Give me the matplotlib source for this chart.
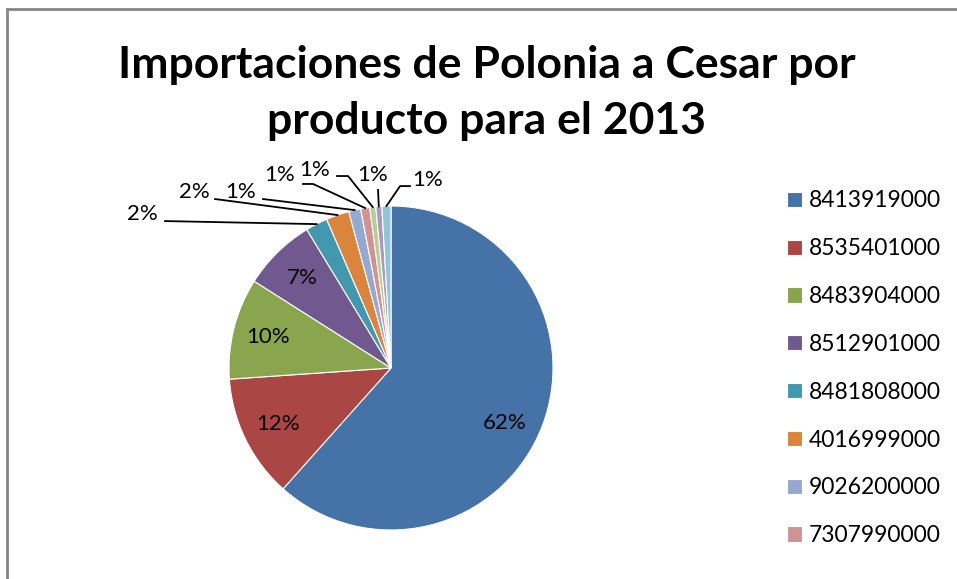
import numpy as np
import matplotlib.pyplot as plt
from matplotlib.patches import Rectangle

# product codes (only the first 8 are listed in the legend of the original)
codes = ["8413919000", "8535401000", "8483904000", "8512901000",
         "8481808000", "4016999000", "9026200000", "7307990000",
         "otro 1", "otro 2", "otro 3"]
shares = [61.6, 12.3, 10.1, 7.3, 2.2, 2.3, 1.2, 0.9, 0.6, 0.6, 0.9]
colors = ["#4572A7", "#AA4643", "#89A54E", "#71588F", "#4198AF", "#DB843D",
          "#93A9CF", "#D19392", "#B9CD96", "#A99BBD", "#92C5DA"]
n_legend = 8

# label layout for the small slices (data units, pie radius = 1)
# index -> (text position, leader line start points)
outside = {
    4: ((-1.537, 0.951), [(-1.395, 0.907)]),
    5: ((-1.216, 1.086), [(-1.086, 1.043)]),
    6: ((-0.926, 1.086), [(-0.790, 1.043)]),
    7: ((-0.685, 1.191), [(-0.543, 1.136), (-0.481, 1.136)]),
    8: ((-0.469, 1.222), [(-0.333, 1.185), (-0.265, 1.185)]),
    9: ((-0.111, 1.191), [(-0.080, 1.099)]),
    10: ((0.228, 1.160), [(0.117, 1.123), (0.056, 1.123)]),
}

plt.rcParams['font.family'] = ['Lato', 'DejaVu Sans']
fig = plt.figure(figsize=(9.57, 5.79), dpi=100)

# chart area border
fig.patches.append(Rectangle((7.5 / 957, -0.1), 1.2, 1 - 8.5 / 579 + 0.1,
                             transform=fig.transFigure, fill=False,
                             edgecolor="#868686", linewidth=2))

fig.text(487 / 957, 1 - 93 / 579, "Importaciones de Polonia a Cesar por\nproducto para el 2013",
         ha="center", va="center", fontsize=32, fontweight="bold", linespacing=1.48)

cx, cy, R = 391, 368, 162
ax = fig.add_axes([(cx - R) / 957, (579 - cy - R) / 579, 2 * R / 957, 2 * R / 579])
wedges, _ = ax.pie(shares, colors=colors, startangle=90, counterclock=False,
                   wedgeprops=dict(edgecolor="white", linewidth=0.8))
ax.set_xlim(-1, 1)
ax.set_ylim(-1, 1)
ax.set_aspect("equal")

total = sum(shares)
for i, w in enumerate(wedges):
    mid = np.deg2rad((w.theta1 + w.theta2) / 2)
    label = f"{round(shares[i] / total * 100):.0f}%"
    if i in outside:
        (tx, ty), pts = outside[i]
        ex, ey = np.cos(mid), np.sin(mid)
        xs = [p[0] for p in pts] + [ex]
        ys = [p[1] for p in pts] + [ey]
        ax.plot(xs, ys, color="black", linewidth=1.3, clip_on=False)
        ax.text(tx, ty, label, ha="center", va="center", fontsize=16)
    else:
        if i == 0:
            mid -= np.deg2rad(5)
        r = 0.78
        ax.text(r * np.cos(mid), r * np.sin(mid), label, ha="center", va="center", fontsize=16)

leg = fig.legend(wedges[:n_legend], codes[:n_legend], loc="upper left",
                 bbox_to_anchor=(776 / 957, 1 - 179 / 579), frameon=False,
                 fontsize=16.5, handlelength=0.65, handleheight=0.65,
                 handletextpad=0.3, labelspacing=1.17, borderpad=0)

fig.savefig("out.png", dpi=100)
